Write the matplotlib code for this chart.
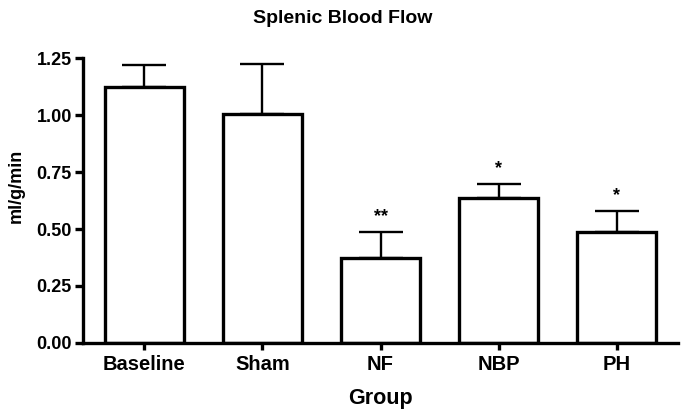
import numpy as np
import matplotlib
matplotlib.use('Agg')
import matplotlib.pyplot as plt

plt.rcParams['font.family'] = ['Liberation Sans', 'DejaVu Sans']
plt.rcParams['font.weight'] = 'bold'

# data
groups = ['Baseline', 'Sham', 'NF', 'NBP', 'PH']
means = [1.124, 1.004, 0.371, 0.635, 0.488]
sem = [0.095, 0.220, 0.117, 0.061, 0.092]
stars = ['', '', '**', '*', '*']
yticks = [0.00, 0.25, 0.50, 0.75, 1.00, 1.25]

fig = plt.figure(figsize=(6.85, 4.16), dpi=100)
ax = fig.add_axes([0.121, 0.1755, 0.869, 0.685])

x = np.arange(len(groups))
ax.bar(x, means, width=0.67, color='white', edgecolor='black', linewidth=2.4, zorder=2)
ax.errorbar(x, means, yerr=[np.zeros(len(sem)), sem], fmt='none', ecolor='black',
            elinewidth=1.7, capsize=16, capthick=1.7, zorder=1)

for i in range(len(groups)):
    if stars[i]:
        ax.text(x[i], means[i] + sem[i] + 0.03, stars[i], ha='center', va='bottom',
                fontsize=13, fontweight='bold')

ax.set_xlim(-0.52, 4.52)
ax.set_ylim(0, 1.25)
ax.set_yticks(yticks)
ax.set_yticklabels(['%.2f' % v for v in yticks], fontsize=13, fontweight='bold')
ax.set_xticks(x)
ax.set_xticklabels(groups, fontsize=14.5, fontweight='bold')

for s in ['top', 'right']:
    ax.spines[s].set_visible(False)
for s in ['left', 'bottom']:
    ax.spines[s].set_linewidth(2.4)
ax.tick_params(axis='y', direction='out', length=6, width=2.4, pad=2)
ax.tick_params(axis='x', direction='out', length=5, width=2.4, pad=4)

ax.set_xlabel('Group', fontsize=15.5, fontweight='bold', labelpad=10)
ax.set_ylabel('ml/g/min', fontsize=13, fontweight='bold', labelpad=6)
ax.yaxis.set_label_coords(-0.098, 0.55)

fig.text(0.5, 0.955, 'Splenic Blood Flow', ha='center', va='center', fontsize=14, fontweight='bold')

fig.savefig('out.png', dpi=100)
